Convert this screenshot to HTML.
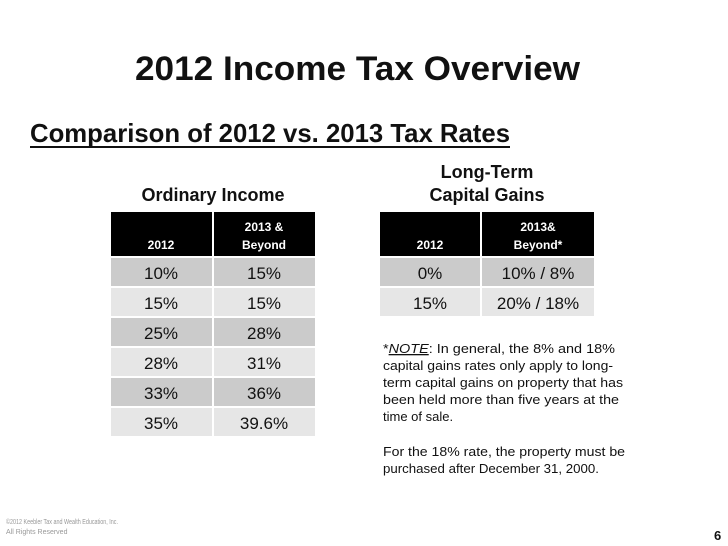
<!DOCTYPE html>
<html><head><meta charset="utf-8"><style>
body{margin:0;background:#fff;}
svg{display:block;}
.c{font-family:"Liberation Sans",sans-serif;}
</style></head><body>
<svg width="728" height="546" viewBox="0 0 728 546" xmlns="http://www.w3.org/2000/svg">
<rect width="728" height="546" fill="#fff"/>
<text x="135" y="80" textLength="445" lengthAdjust="spacingAndGlyphs" font-family="Liberation Sans, sans-serif" font-weight="bold" font-size="34" fill="#111">2012 Income Tax Overview</text>
<text x="30" y="142" textLength="480" lengthAdjust="spacingAndGlyphs" font-family="Liberation Sans, sans-serif" font-weight="bold" font-size="26" fill="#111">Comparison of 2012 vs. 2013 Tax Rates</text>
<rect x="30" y="146" width="480" height="2" fill="#111"/>

<text x="213" y="201" text-anchor="middle" font-family="Liberation Sans, sans-serif" font-weight="bold" font-size="18" fill="#111">Ordinary Income</text>
<text x="487" y="178" text-anchor="middle" font-family="Liberation Sans, sans-serif" font-weight="bold" font-size="18" fill="#111">Long-Term</text>
<text x="487" y="201" text-anchor="middle" font-family="Liberation Sans, sans-serif" font-weight="bold" font-size="18" fill="#111">Capital Gains</text>

<g font-family="Liberation Sans, sans-serif" text-anchor="middle">
<rect x="111" y="212" width="101" height="44" fill="#000"/>
<rect x="214" y="212" width="101" height="44" fill="#000"/>
<text x="161" y="249" fill="#fff" font-weight="bold" font-size="12">2012</text>
<text x="264" y="231" fill="#fff" font-weight="bold" font-size="12">2013 &amp;</text>
<text x="264" y="249" fill="#fff" font-weight="bold" font-size="12">Beyond</text>
<g font-size="17" fill="#111">
<rect x="111" y="258" width="101" height="28" fill="#cbcbcb"/><rect x="214" y="258" width="101" height="28" fill="#cbcbcb"/>
<text x="161" y="279">10%</text><text x="264" y="279">15%</text>
<rect x="111" y="288" width="101" height="28" fill="#e6e6e6"/><rect x="214" y="288" width="101" height="28" fill="#e6e6e6"/>
<text x="161" y="309">15%</text><text x="264" y="309">15%</text>
<rect x="111" y="318" width="101" height="28" fill="#cbcbcb"/><rect x="214" y="318" width="101" height="28" fill="#cbcbcb"/>
<text x="161" y="339">25%</text><text x="264" y="339">28%</text>
<rect x="111" y="348" width="101" height="28" fill="#e6e6e6"/><rect x="214" y="348" width="101" height="28" fill="#e6e6e6"/>
<text x="161" y="369">28%</text><text x="264" y="369">31%</text>
<rect x="111" y="378" width="101" height="28" fill="#cbcbcb"/><rect x="214" y="378" width="101" height="28" fill="#cbcbcb"/>
<text x="161" y="399">33%</text><text x="264" y="399">36%</text>
<rect x="111" y="408" width="101" height="28" fill="#e6e6e6"/><rect x="214" y="408" width="101" height="28" fill="#e6e6e6"/>
<text x="161" y="429">35%</text><text x="264" y="429">39.6%</text>
</g></g>

<g font-family="Liberation Sans, sans-serif" text-anchor="middle">
<rect x="380" y="212" width="100" height="44" fill="#000"/>
<rect x="482" y="212" width="112" height="44" fill="#000"/>
<text x="430" y="249" fill="#fff" font-weight="bold" font-size="12">2012</text>
<text x="538" y="231" fill="#fff" font-weight="bold" font-size="12">2013&amp;</text>
<text x="538" y="249" fill="#fff" font-weight="bold" font-size="12">Beyond*</text>
<g font-size="17" fill="#111">
<rect x="380" y="258" width="100" height="28" fill="#cbcbcb"/><rect x="482" y="258" width="112" height="28" fill="#cbcbcb"/>
<text x="430" y="279">0%</text><text x="538" y="279">10% / 8%</text>
<rect x="380" y="288" width="100" height="28" fill="#e6e6e6"/><rect x="482" y="288" width="112" height="28" fill="#e6e6e6"/>
<text x="430" y="309">15%</text><text x="538" y="309">20% / 18%</text>
</g></g>

<g font-family="Liberation Sans, sans-serif" font-size="13" fill="#111">
<text x="383" y="353" textLength="232" lengthAdjust="spacingAndGlyphs">*<tspan font-style="italic" text-decoration="underline">NOTE</tspan>: In general, the 8% and 18%</text>
<text x="383" y="370" textLength="230" lengthAdjust="spacingAndGlyphs">capital gains rates only apply to long-</text>
<text x="383" y="387" textLength="240" lengthAdjust="spacingAndGlyphs">term capital gains on property that has</text>
<text x="383" y="404" textLength="236" lengthAdjust="spacingAndGlyphs">been held more than five years at the</text>
<text x="383" y="421">time of sale.</text>
<text x="383" y="456" textLength="242" lengthAdjust="spacingAndGlyphs">For the 18% rate, the property must be</text>
<text x="383" y="473" textLength="216" lengthAdjust="spacingAndGlyphs">purchased after December 31, 2000.</text>
</g>

<text x="6" y="524" font-family="Liberation Sans, sans-serif" font-size="7" fill="#999" textLength="112" lengthAdjust="spacingAndGlyphs">©2012 Keebler Tax and Wealth Education, Inc.</text>
<text x="6" y="534" font-family="Liberation Sans, sans-serif" font-size="7" fill="#999">All Rights Reserved</text>
<text x="714" y="540" font-family="Liberation Sans, sans-serif" font-weight="bold" font-size="13" fill="#111">6</text>
</svg>
</body></html>
